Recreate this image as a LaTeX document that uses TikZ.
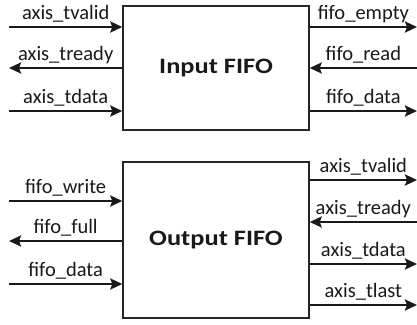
\documentclass[tikz,border=0pt]{standalone}
\usepackage{fontspec}
\setmainfont{Carlito}
\usetikzlibrary{arrows.meta}
\begin{document}
\begin{tikzpicture}[x=1pt,y=-1pt,
  blk/.style={draw=black!85, line width=1.4pt, minimum width=186pt, inner sep=0pt, font=\fontsize{22}{24}\selectfont\bfseries\addfontfeature{FakeStretch=1.2}, text=black!90},
  sig/.style={line width=2.4pt, draw=black!90, -{Stealth[length=12pt,width=11pt,inset=2pt]}},
  lbl/.style={font=\fontsize{20.5}{22}\selectfont, text=black!90, inner sep=0pt, anchor=base, yshift=8pt}]
\useasboundingbox (0,0) rectangle (417,324);
\node[blk, minimum height=124pt] (in) at (216,68) {Input FIFO};
\node[blk, minimum height=156pt] (out) at (216,240) {Output FIFO};
% input fifo left
\coordinate (a1) at (9,27);
\coordinate (a2) at (9,68);
\coordinate (a3) at (9,111);
\draw[sig] (a1) -- node[lbl] {axis\_tvalid} (in.west |- a1);
\draw[sig] (in.west |- a2) -- node[lbl] {axis\_tready} (a2);
\draw[sig] (a3) -- node[lbl] {axis\_tdata} (in.west |- a3);
% input fifo right
\coordinate (b1) at (417,27);
\coordinate (b2) at (417,68);
\coordinate (b3) at (417,111);
\draw[sig] (in.east |- b1) -- node[lbl] {fifo\_empty} (b1);
\draw[sig] (b2) -- node[lbl] {fifo\_read} (in.east |- b2);
\draw[sig] (in.east |- b3) -- node[lbl] {fifo\_data} (b3);
% output fifo left
\coordinate (c1) at (9,201);
\coordinate (c2) at (9,241);
\coordinate (c3) at (9,284);
\draw[sig] (c1) -- node[lbl] {fifo\_write} (out.west |- c1);
\draw[sig] (out.west |- c2) -- node[lbl] {fifo\_full} (c2);
\draw[sig] (c3) -- node[lbl] {fifo\_data} (out.west |- c3);
% output fifo right
\coordinate (d1) at (417,180);
\coordinate (d2) at (417,222);
\coordinate (d3) at (417,264);
\coordinate (d4) at (417,305);
\draw[sig] (out.east |- d1) -- node[lbl] {axis\_tvalid} (d1);
\draw[sig] (d2) -- node[lbl] {axis\_tready} (out.east |- d2);
\draw[sig] (out.east |- d3) -- node[lbl] {axis\_tdata} (d3);
\draw[sig] (out.east |- d4) -- node[lbl] {axis\_tlast} (d4);
\end{tikzpicture}
\end{document}
